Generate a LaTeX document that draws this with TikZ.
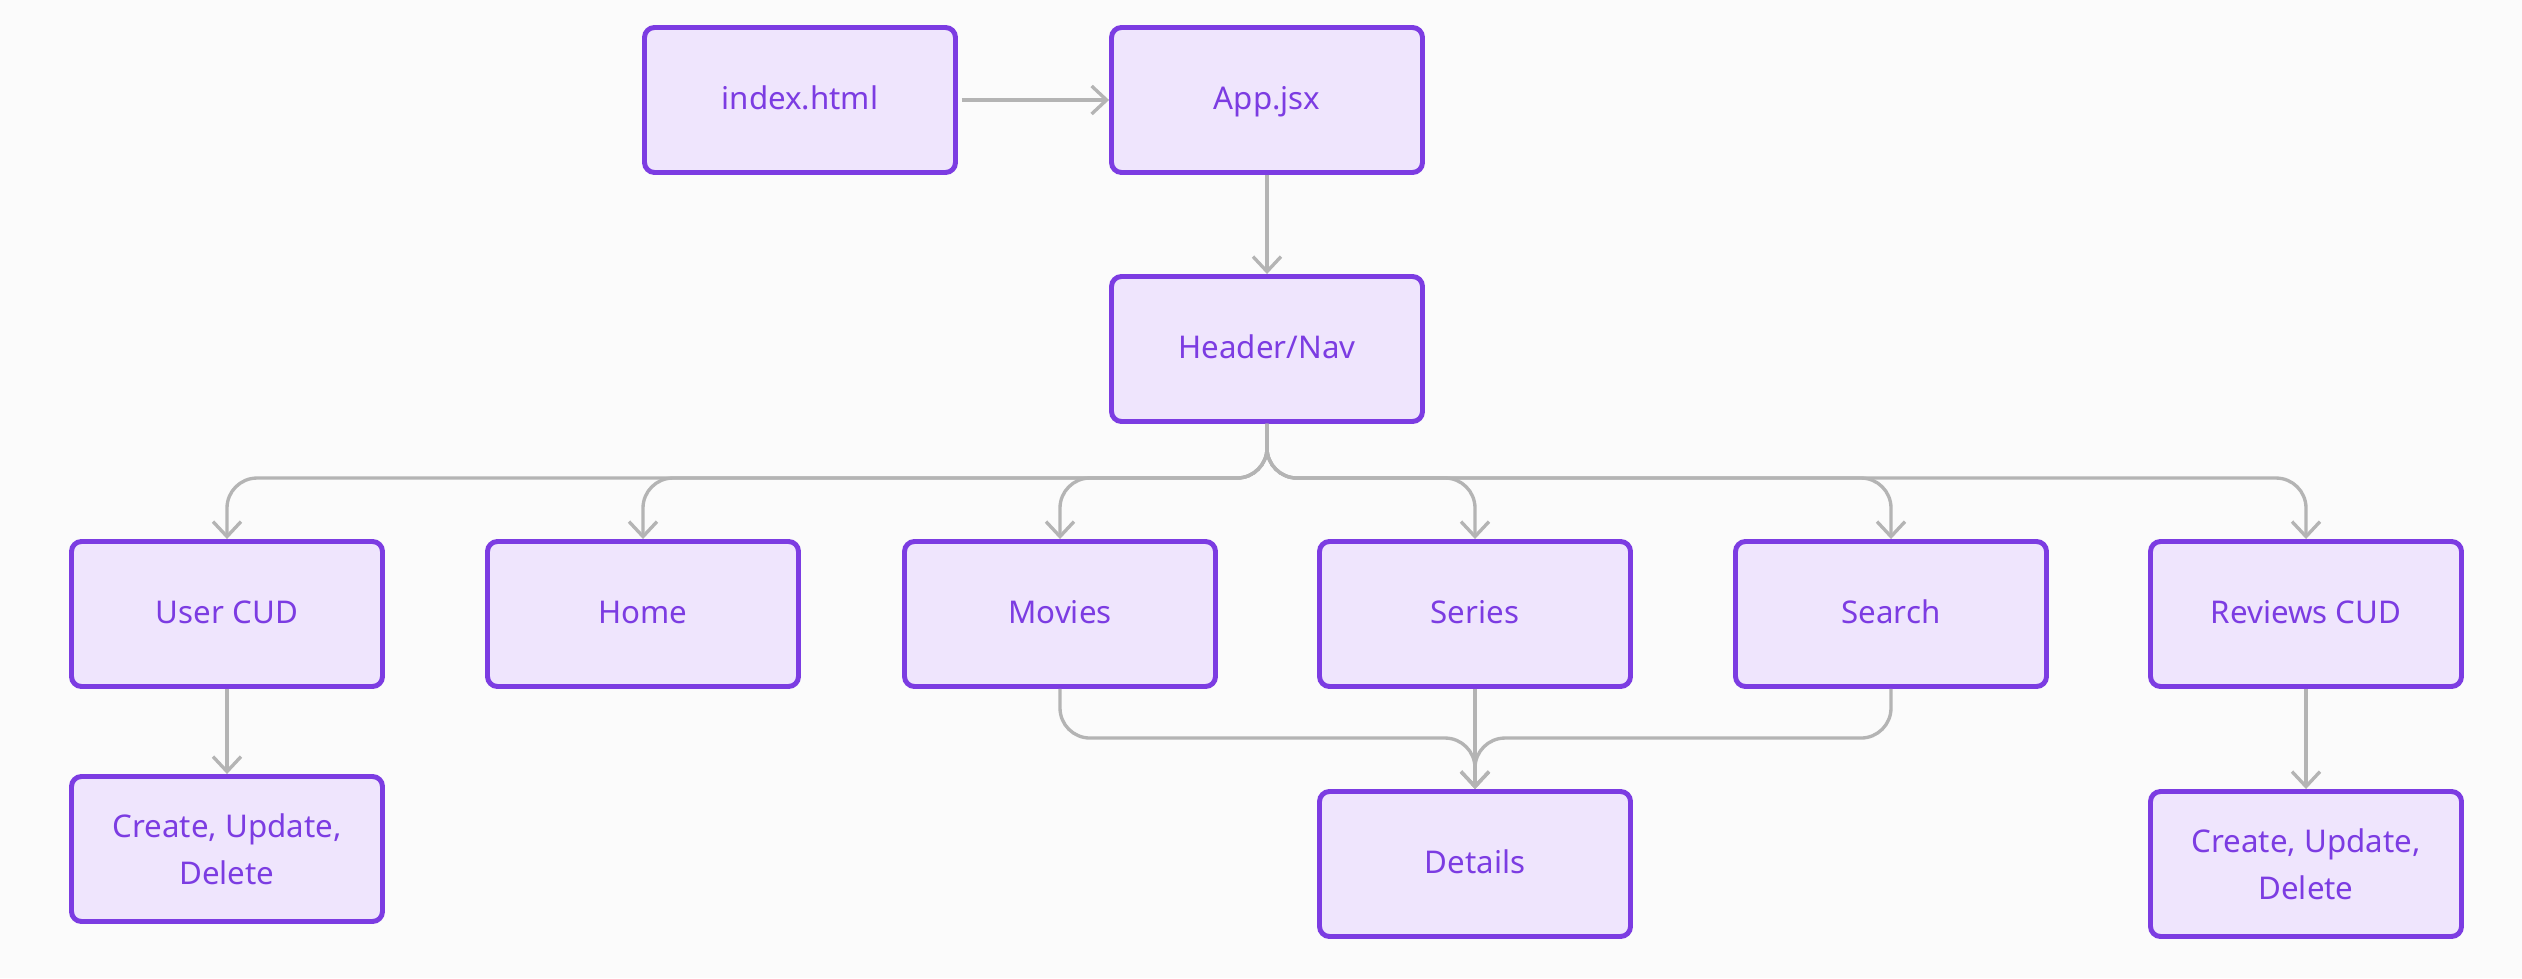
\documentclass[tikz,border=0pt]{standalone}
\usepackage{fontspec}
\setmainfont{Noto Sans}
\usetikzlibrary{arrows.meta,calc}
\definecolor{bordc}{RGB}{124,60,226}
\definecolor{fillc}{RGB}{239,229,253}
\definecolor{bgc}{RGB}{251,251,251}
\definecolor{linec}{RGB}{180,180,180}
\tikzset{
  box/.style={draw=bordc, fill=fillc, line width=1.4pt, rounded corners=0.1cm,
    minimum width=3.11cm, minimum height=1.45cm, text=bordc, align=center,
    font=\fontsize{8.9pt}{13.4pt}\selectfont, inner sep=0pt},
  oneline/.style={box, text height=0.75em, text depth=0.22em},
  conn/.style={draw=linec, line width=0.95pt, rounded corners=0.3cm,
    -{Straight Barb[length=0.15cm, width=0.28cm, line width=0.95pt]}},
}
\begin{document}
\begin{tikzpicture}[x=1cm,y=1cm]
\fill[bgc] (0,0) rectangle (25.22,9.78);
\useasboundingbox (0,0) rectangle (25.22,9.78);
% nodes (centres: x/100, (978-y)/100)
\node[oneline] (idx) at (8.00,8.78) {index.html};
\node[oneline] (app) at (12.67,8.78) {App.jsx};
\node[oneline] (hdr) at (12.67,6.29) {Header/Nav};
\node[oneline] (usr) at (2.27,3.64) {User CUD};
\node[oneline] (hom) at (6.43,3.64) {Home};
\node[oneline] (mov) at (10.60,3.64) {Movies};
\node[oneline] (ser) at (14.75,3.64) {Series};
\node[oneline] (sea) at (18.91,3.64) {Search};
\node[oneline] (rev) at (23.06,3.64) {Reviews CUD};
\node[box] (cudl) at (2.27,1.29) {Create, Update,\\Delete};
\node[oneline] (det) at (14.75,1.14) {Details};
\node[box] (cudr) at (23.06,1.14) {Create, Update,\\Delete};
% connectors
\draw[conn] (idx.east) ++(0.04,0) -- (app.west);
\draw[conn] (app.south) -- (hdr.north);
\foreach \c in {usr,hom,mov,ser,sea,rev}{
  \draw[conn] (hdr.south) |- ($(\c.north)+(0,0.61)$) -- (\c.north);
}
\draw[conn] (usr.south) -- (cudl.north);
\draw[conn] (rev.south) -- (cudr.north);
\draw[conn] (mov.south) |- ($(det.north)+(0,0.51)$) -- (det.north);
\draw[conn] (ser.south) -- (det.north);
\draw[conn] (sea.south) |- ($(det.north)+(0,0.51)$) -- (det.north);
\end{tikzpicture}
\end{document}
